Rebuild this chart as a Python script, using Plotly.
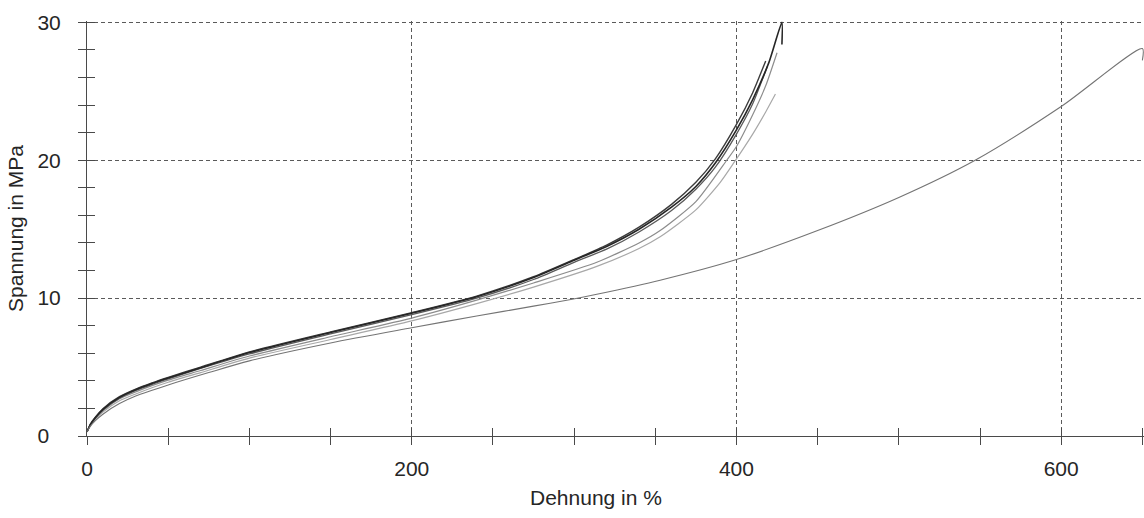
import plotly.graph_objects as go

# Stress-strain curves (strain in %, stress in MPa)
strain_a = [0, 2, 5, 10, 20, 30, 40, 50, 70, 100, 150, 200, 240, 275, 300, 320, 340, 360, 375, 387, 400, 410, 420, 428, 428]
stress_a = [0.3, 0.8, 1.3, 1.95, 2.8, 3.35, 3.8, 4.2, 4.95, 6.05, 7.5, 8.9, 10.1, 11.5, 12.75, 13.75, 15.0, 16.6, 18.1, 19.8, 22.2, 24.4, 27.1, 30.0, 28.4]

strain_b = [0, 2, 5, 10, 20, 30, 40, 50, 70, 100, 150, 200, 240, 275, 300, 320, 340, 360, 375, 387, 400, 410, 418]
stress_b = [0.3, 0.85, 1.35, 2.0, 2.85, 3.4, 3.85, 4.25, 5.0, 6.1, 7.55, 8.95, 10.15, 11.55, 12.8, 13.85, 15.15, 16.8, 18.4, 20.1, 22.6, 24.9, 27.2]

strain_b2 = [0, 2, 5, 10, 20, 30, 40, 50, 70, 100, 150, 200, 240, 275, 300, 320, 340, 360, 375, 387, 400, 410, 419]
stress_b2 = [0.3, 0.8, 1.3, 1.9, 2.75, 3.3, 3.75, 4.15, 4.9, 5.95, 7.4, 8.8, 10.0, 11.35, 12.6, 13.55, 14.8, 16.35, 17.9, 19.5, 21.9, 24.1, 26.8]

strain_c = [0, 2, 5, 10, 20, 30, 40, 50, 70, 100, 150, 200, 240, 275, 314, 340, 353, 375, 394, 400, 410, 418, 425]
stress_c = [0.3, 0.8, 1.25, 1.85, 2.7, 3.2, 3.65, 4.05, 4.75, 5.8, 7.2, 8.55, 9.85, 11.1, 12.6, 14.0, 14.9, 17.0, 20.0, 21.0, 23.3, 25.4, 27.8]

strain_d = [0, 2, 5, 10, 20, 30, 40, 50, 70, 100, 150, 200, 240, 275, 314, 340, 353, 375, 390, 398, 410, 418, 424]
stress_d = [0.3, 0.75, 1.2, 1.75, 2.55, 3.05, 3.5, 3.9, 4.6, 5.65, 7.0, 8.35, 9.6, 10.8, 12.3, 13.6, 14.45, 16.4, 18.4, 19.75, 21.9, 23.5, 24.8]

strain_e = [0, 2, 5, 10, 20, 30, 50, 75, 100, 150, 200, 240, 275, 298, 314, 353, 400, 450, 500, 547, 600, 650, 650]
stress_e = [0.3, 0.7, 1.1, 1.6, 2.35, 2.9, 3.7, 4.6, 5.45, 6.75, 7.85, 8.7, 9.42, 9.9, 10.28, 11.3, 12.8, 14.9, 17.3, 20.0, 23.9, 28.1, 27.25]

x_ticks = [0, 200, 400, 600]
x_ticktext = ["0", "200", "400", "600"]
y_ticks = [0, 10, 20, 30]
y_ticktext = ["0\u2007", "10", "20", "30"]

FONT = "Liberation Sans, Arial, Helvetica, sans-serif"
TEXT_COLOR = "#262626"
AXIS_COLOR = "#4a4a4a"
GRID_COLOR = "#5a5a5a"
X_RANGE = [0, 651]
Y_RANGE = [0, 30.1]

curves = [
    (strain_d, stress_d, "#a8a8a8", 1.2),
    (strain_c, stress_c, "#8c8c8c", 1.2),
    (strain_b2, stress_b2, "#5a5a5a", 1.3),
    (strain_b, stress_b, "#3c3c3c", 1.4),
    (strain_a, stress_a, "#262626", 1.6),
]

fig = go.Figure()
for xs, ys, color, width in curves:
    fig.add_trace(go.Scatter(
        x=xs, y=ys, mode="lines",
        line=dict(color=color, width=width, shape="spline", smoothing=0.6),
        showlegend=False, hoverinfo="skip",
    ))

# long specimen drawn on the overlay axes (which carry the inner tick halves)
fig.add_trace(go.Scatter(
    x=strain_e, y=stress_e, mode="lines", xaxis="x2", yaxis="y2",
    line=dict(color="#747474", width=1.1, shape="spline", smoothing=0.8),
    showlegend=False, hoverinfo="skip",
))

fig.update_layout(
    width=1144, height=518,
    margin=dict(l=87, r=0, t=21, b=82),
    paper_bgcolor="white", plot_bgcolor="white",
    font=dict(family=FONT, size=21, color=TEXT_COLOR),
    xaxis=dict(
        range=X_RANGE, tickmode="array", tickvals=x_ticks, ticktext=x_ticktext,
        ticks="outside", ticklen=8, tickcolor=AXIS_COLOR, tickwidth=1,
        ticklabelstandoff=6,
        minor=dict(tickmode="linear", tick0=0, dtick=50, ticks="outside",
                   ticklen=8, tickcolor=AXIS_COLOR, tickwidth=1, showgrid=False),
        showline=True, linecolor=AXIS_COLOR, linewidth=1,
        showgrid=True, gridcolor=GRID_COLOR, gridwidth=1, griddash="4px,3px",
        zeroline=False, fixedrange=True,
    ),
    yaxis=dict(
        range=Y_RANGE, tickmode="array", tickvals=y_ticks, ticktext=y_ticktext,
        ticks="outside", ticklen=8, tickcolor=AXIS_COLOR, tickwidth=1,
        ticklabelstandoff=13,
        minor=dict(tickmode="linear", tick0=0, dtick=2, ticks="outside",
                   ticklen=8, tickcolor=AXIS_COLOR, tickwidth=1, showgrid=False),
        showline=True, linecolor=AXIS_COLOR, linewidth=1,
        showgrid=True, gridcolor=GRID_COLOR, gridwidth=1, griddash="4px,3px",
        zeroline=False, fixedrange=True,
        title=dict(text="Spannung in MPa", standoff=8,
                   font=dict(family=FONT, size=21, color=TEXT_COLOR)),
    ),
    xaxis2=dict(
        range=X_RANGE, overlaying="x", anchor="y2", side="bottom",
        tickmode="linear", tick0=0, dtick=50, ticks="inside", ticklen=8,
        tickcolor=AXIS_COLOR, tickwidth=1, showticklabels=False,
        showline=False, showgrid=False, zeroline=False, fixedrange=True,
    ),
    yaxis2=dict(
        range=Y_RANGE, overlaying="y", anchor="x2", side="left",
        tickmode="linear", tick0=0, dtick=2, ticks="inside", ticklen=8,
        tickcolor=AXIS_COLOR, tickwidth=1, showticklabels=False,
        showline=False, showgrid=False, zeroline=False, fixedrange=True,
    ),
    annotations=[dict(
        text="Dehnung in %", xref="paper", yref="paper",
        x=(596 - 87) / 1057, y=-(497 - 436) / 415,
        xanchor="center", yanchor="middle", showarrow=False,
        font=dict(family=FONT, size=21, color=TEXT_COLOR),
    )],
)

fig.write_html("out.html")
